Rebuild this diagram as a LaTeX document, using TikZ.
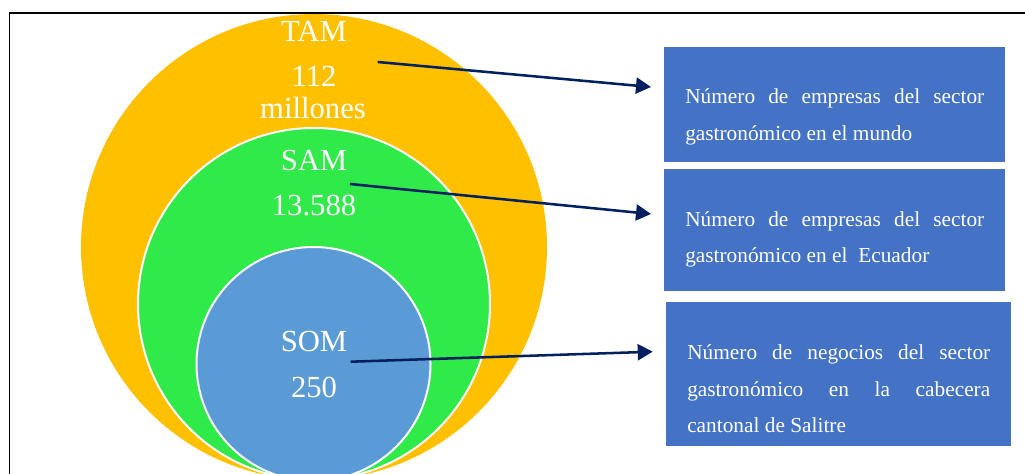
\documentclass[tikz,border=0pt]{standalone}
\usepackage{fontspec}
\setmainfont{Liberation Serif}
\usetikzlibrary{arrows.meta}
\definecolor{tamc}{HTML}{FFC000}
\definecolor{samc}{HTML}{30EA4A}
\definecolor{somc}{HTML}{5B9BD5}
\definecolor{boxc}{HTML}{4472C4}
\definecolor{arrc}{HTML}{002060}
\begin{document}
\begin{tikzpicture}[x=0.75pt,y=-0.75pt,
  ring/.style={circle, inner sep=0pt, outer sep=0pt},
  biglabel/.style={text=white, font=\fontsize{23}{27}\selectfont, anchor=base, inner sep=0pt},
  infobox/.style={fill=boxc, inner sep=0pt, outer sep=0pt, anchor=north west},
  infotext/.style={text=white, font=\fontsize{16}{19}\selectfont, anchor=base west, inner sep=0pt},
  pointer/.style={draw=arrc, line width=1.9pt, -{Triangle[length=11.25pt,width=12pt]}}]
\clip (0,0) rectangle (1025,474);
\draw[line width=1.1pt] (9.5,13) rectangle (1040,490);
% circles
\node[ring, fill=tamc, minimum size=349.5pt] (tam) at (314,247) {};
\node[ring, fill=samc, draw=white, line width=1.5pt, minimum size=264pt] (sam) at (314,304) {};
\node[ring, fill=somc, draw=white, line width=1.5pt, minimum size=175.5pt] (som) at (313.5,364) {};
% circle labels
\node[biglabel] (tamlab) at (314,41.7) {TAM};
\node[biglabel] (tamval) at (314,87) {112};
\node[biglabel] (tamunit) at (313,119) {millones};
\node[biglabel] (samlab) at (314,170.7) {SAM};
\node[biglabel] (samval) at (314,216) {13.588};
\node[biglabel] (somlab) at (314,351.5) {SOM};
\node[biglabel] (somval) at (314,397) {250};
% boxes
\node[infobox, minimum width=255.75pt, minimum height=86.25pt] (box1) at (664,47) {};
\node[infobox, minimum width=255.75pt, minimum height=91.5pt] (box2) at (664,169) {};
\node[infobox, minimum width=258.75pt, minimum height=108pt] (box3) at (666,302) {};
% box texts
\node[infotext] (t1a) at (685,104) {\hbox to 224.25pt{Número\hfill de\hfill empresas\hfill del\hfill sector}};
\node[infotext] (t1b) at (685,140.5) {gastronómico en el mundo};
\node[infotext] (t2a) at (685,227) {\hbox to 224.25pt{Número\hfill de\hfill empresas\hfill del\hfill sector}};
\node[infotext] (t2b) at (685,262.5) {gastronómico en el\ \ Ecuador};
\node[infotext] (t3a) at (687,359.3) {\hbox to 227.25pt{Número\hfill de\hfill negocios\hfill del\hfill sector}};
\node[infotext] (t3b) at (687,396) {\hbox to 227.25pt{gastronómico\hfill en\hfill la\hfill cabecera}};
\node[infotext] (t3c) at (687,432.7) {cantonal de Salitre};
% arrows
\coordinate (p1) at (377.7,62);
\coordinate (q1) at (651,87);
\coordinate (p2) at (350,184);
\coordinate (q2) at (651,214);
\coordinate (p3) at (350.7,361.7);
\coordinate (q3) at (652.7,351.7);
\draw[pointer] (p1) -- (q1);
\draw[pointer] (p2) -- (q2);
\draw[pointer] (p3) -- (q3);
\end{tikzpicture}
\end{document}
